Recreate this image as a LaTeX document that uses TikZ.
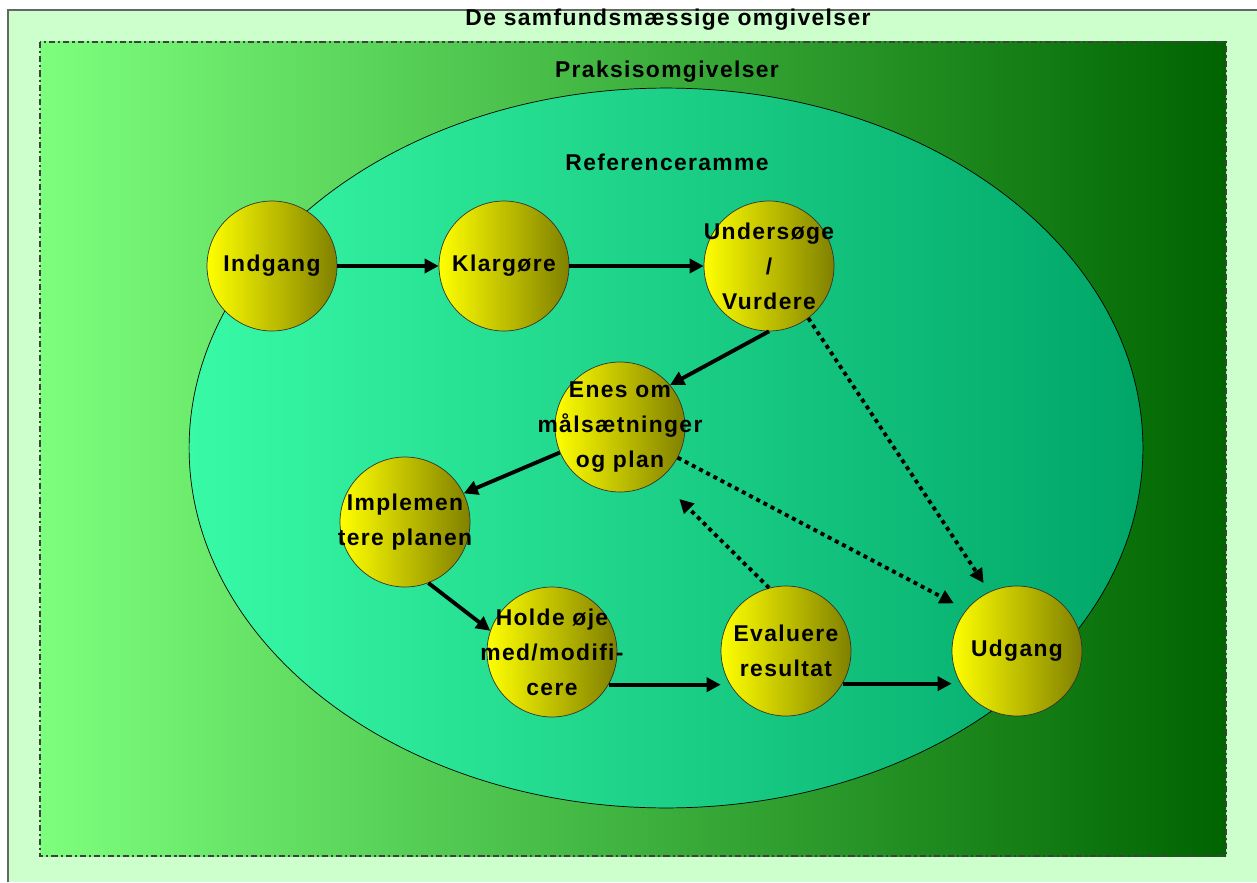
\documentclass[tikz,border=0pt]{standalone}
\usepackage{fontspec}
\setmainfont{Liberation Sans}[LetterSpace=6]
\usetikzlibrary{arrows.meta}
\definecolor{paleground}{RGB}{204,255,204}
\definecolor{fieldleft}{RGB}{125,255,125}
\definecolor{fieldright}{RGB}{0,100,0}
\definecolor{frameleft}{RGB}{56,250,166}
\definecolor{frameright}{RGB}{0,166,104}
\definecolor{ballleft}{RGB}{255,255,0}
\definecolor{ballright}{RGB}{128,128,0}
\tikzset{
    every node/.style={font=\bfseries\fontsize{13}{20}\selectfont, align=center,
    	text=black}
}
\tikzset{
    phase/.style={circle, draw=black!80, thin, minimum size=2.6cm, inner sep=0pt,
    	left color=ballleft, right color=ballright}
}
\tikzset{
    flow/.style={line width=2.2pt, -{Triangle[length=8pt,width=8pt]}},
    shortcut/.style={flow, dash pattern=on 2.3pt off 2.3pt}
}

\begin{document}
\begin{tikzpicture}[x=0.02cm, y=-0.02cm]
	\useasboundingbox (0,0) rectangle (1257,882);
	% surroundings
	\fill[paleground] (8,10) rectangle (1257,882);
	\draw[black!60, line width=1.2pt] (8,882) -- (8,10) -- (1257,10);
	\draw[black!75, line width=1.3pt, dash pattern=on 3.5pt off 1.7pt on 1.2pt off 1.7pt,
		left color=fieldleft, right color=fieldright] (40,42) rectangle (1226,856);
	\draw[black, thin, left color=frameleft, right color=frameright]
		(666,448) ellipse [x radius=9.54cm, y radius=7.2cm];

	\node (samfund) at (668,20) {De samfundsmæssige omgivelser};
	\node (praksis) at (667,72) {Praksisomgivelser};
	\node (ramme) at (667,162) {Referenceramme};

	% phases
	\node[phase, label=center:{Indgang}] (ind) at (272,266) {};
	\node[phase, label=center:{Klargøre}] (kla) at (504,266) {};
	\node[phase, label=center:{Undersøge\\/\\Vurdere}] (und) at (769,266) {};
	\node[phase, label=center:{Enes om\\målsætninger\\og plan}] (enes) at (620,427) {};
	\node[phase, label=center:{Implemen\\tere planen}] (impl) at (405,522) {};
	\node[phase, label=center:{Holde øje\\med/modifi-\\cere}] (hold) at (552,652) {};
	\node[phase, label=center:{Evaluere\\resultat}] (eval) at (786,651) {};
	\node[phase, label=center:{Udgang}] (udg) at (1017,651) {};

	\draw (ind) edge[flow] (kla); \draw (kla) edge[flow] (und);
	\draw (und.south) edge[flow] (enes.40);
	\draw (enes.203) edge[flow] (impl.26);
	\draw (impl.291) edge[flow] (hold.161);
	\draw (hold.-30) edge[flow] (hold.-30 -| eval.west);
	\draw (eval.-30) edge[flow] (eval.-30 -| udg.west);
	\draw (und.-53) edge[shortcut, shorten >=6pt] (udg.115);
	\draw (enes.-28) edge[shortcut, shorten >=8pt] (udg.141);
	\draw (eval.105) edge[shortcut, shorten >=16pt] (enes.-53);
\end{tikzpicture}
\end{document}
